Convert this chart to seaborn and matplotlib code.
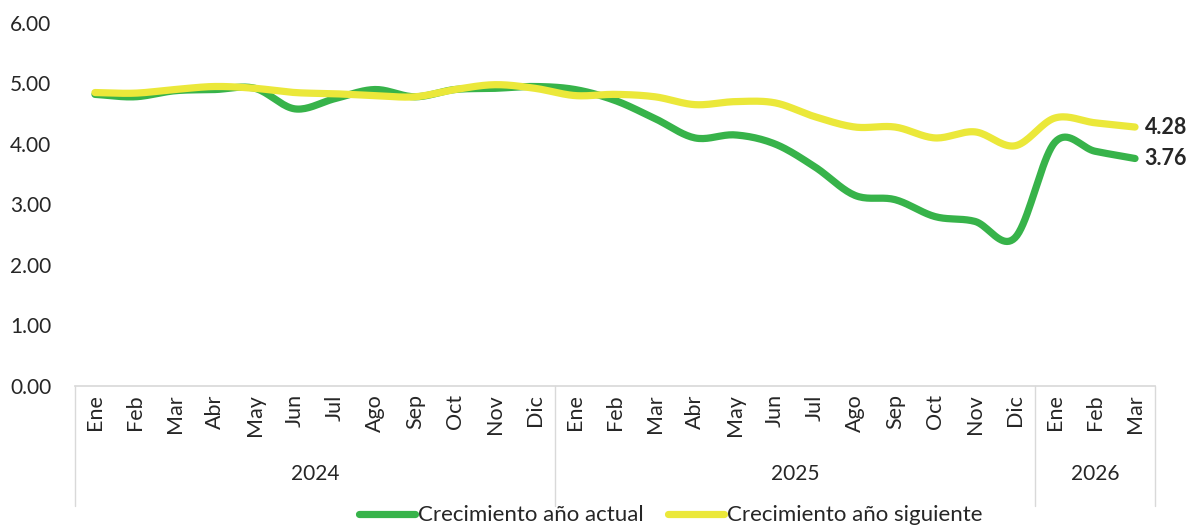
import matplotlib
matplotlib.use("Agg")
import matplotlib.pyplot as plt
import matplotlib.transforms as mtransforms
from matplotlib.lines import Line2D
import seaborn as sns
import numpy as np

sns.set_theme(style="white")
plt.rcParams['font.family'] = ['Lato', 'DejaVu Sans']

# Datos
meses = ["Ene", "Feb", "Mar", "Abr", "May", "Jun", "Jul", "Ago", "Sep", "Oct", "Nov", "Dic",
         "Ene", "Feb", "Mar", "Abr", "May", "Jun", "Jul", "Ago", "Sep", "Oct", "Nov", "Dic",
         "Ene", "Feb", "Mar"]
anios = ["2024", "2025", "2026"]
meses_por_anio = [12, 12, 3]

crec_actual = [4.82, 4.78, 4.88, 4.90, 4.92, 4.58, 4.75, 4.90, 4.78, 4.90, 4.92, 4.95,
               4.90, 4.72, 4.42, 4.10, 4.15, 4.00, 3.62, 3.15, 3.08, 2.80, 2.72, 2.45,
               4.03, 3.88, 3.76]
crec_siguiente = [4.85, 4.84, 4.90, 4.95, 4.92, 4.85, 4.83, 4.80, 4.78, 4.90, 4.98, 4.92,
                  4.80, 4.82, 4.78, 4.65, 4.70, 4.68, 4.45, 4.28, 4.28, 4.10, 4.20, 3.97,
                  4.43, 4.35, 4.28]

verde = "#37B34A"
amarillo = "#EBE83A"


def suavizar(y, n=20):
    """Curva Catmull-Rom para imitar la línea suavizada de Excel."""
    y = np.asarray(y, dtype=float)
    x = np.arange(len(y), dtype=float)
    px = np.concatenate([[2 * x[0] - x[1]], x, [2 * x[-1] - x[-2]]])
    py = np.concatenate([[2 * y[0] - y[1]], y, [2 * y[-1] - y[-2]]])
    xs, ys = [], []
    t = np.linspace(0, 1, n, endpoint=False)
    for i in range(1, len(px) - 2):
        for arr, out in ((px, xs), (py, ys)):
            p0, p1, p2, p3 = arr[i - 1], arr[i], arr[i + 1], arr[i + 2]
            out.append(0.5 * (2 * p1 + (-p0 + p2) * t + (2 * p0 - 5 * p1 + 4 * p2 - p3) * t ** 2
                              + (-p0 + 3 * p1 - 3 * p2 + p3) * t ** 3))
    xs.append([x[-1]])
    ys.append([y[-1]])
    return np.concatenate(xs), np.concatenate(ys)


fig = plt.figure(figsize=(11.9, 5.27), dpi=100)
ax = fig.add_axes([0.063, 0.2676, 0.9076, 0.6888])

for serie, color in ((crec_actual, verde), (crec_siguiente, amarillo)):
    xs, ys = suavizar(serie)
    sns.lineplot(x=xs, y=ys, ax=ax, color=color, linewidth=5.2, sort=False,
                 solid_capstyle="round", estimator=None)

n = len(meses)
ax.set_xlim(-0.5, n - 0.5)
ax.set_ylim(0, 6)
ax.set_yticks(np.arange(0, 7, 1))
ax.set_yticklabels([f"{v:.2f}" for v in np.arange(0, 7, 1)], fontsize=15)
ax.set_xticks(range(n))
ax.set_xticklabels(meses, rotation=90, fontsize=15.5)
ax.tick_params(axis="both", length=0)
ax.tick_params(axis="x", pad=6)
ax.tick_params(axis="y", pad=17)
for s in ["top", "right", "left"]:
    ax.spines[s].set_visible(False)
ax.spines["bottom"].set_color("#d9d9d9")
ax.grid(False)

# Etiquetas finales
for serie in (crec_siguiente, crec_actual):
    ax.annotate(f"{serie[-1]:.2f}", (n - 1, serie[-1]), xytext=(7, 0),
                textcoords="offset points", va="center", ha="left", fontsize=15.5,
                fontweight="bold")

# Separadores y etiquetas de año
trans = mtransforms.blended_transform_factory(ax.transData, ax.transAxes)
inicio = -0.5
ax.plot([inicio, inicio], [0, -0.33], transform=trans, color="#d9d9d9", lw=1, clip_on=False)
for anio, k in zip(anios, meses_por_anio):
    fin = inicio + k
    ax.plot([fin, fin], [0, -0.33], transform=trans, color="#d9d9d9", lw=1, clip_on=False)
    ax.text((inicio + fin) / 2, -0.243, anio, transform=trans, ha="center", va="center",
            fontsize=15)
    inicio = fin

handles = [Line2D([], [], color=verde, lw=5.2, solid_capstyle="round"),
           Line2D([], [], color=amarillo, lw=5.2, solid_capstyle="round")]
fig.legend(handles, ["Crecimiento año actual", "Crecimiento año siguiente"],
           loc="center", bbox_to_anchor=(0.564, 0.022), ncol=2, frameon=False,
           fontsize=16, handlelength=2.5, handletextpad=0.15, columnspacing=1.1,
           borderpad=0, borderaxespad=0)

fig.savefig("out.png", dpi=100)
